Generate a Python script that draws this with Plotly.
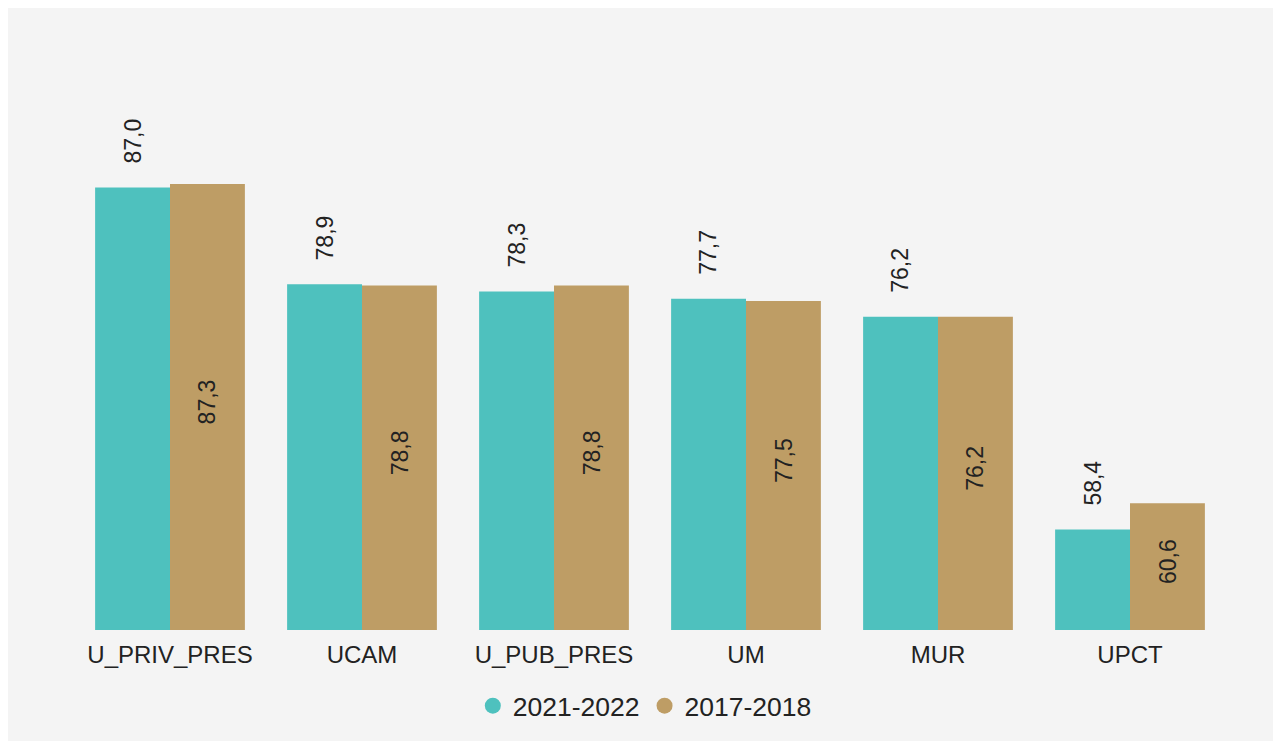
import plotly.graph_objects as go

categories = ["U_PRIV_PRES", "UCAM", "U_PUB_PRES", "UM", "MUR", "UPCT"]
values_2122 = [87.0, 78.9, 78.3, 77.7, 76.2, 58.4]
values_1718 = [87.3, 78.8, 78.8, 77.5, 76.2, 60.6]
series_names = ["2021-2022", "2017-2018"]

TEAL = "#4EC1BE"
TAN = "#BE9D65"
TXT = "#222222"
FONT = "Liberation Sans, Arial, sans-serif"
BARGAP = 0.22
half = (1 - BARGAP) / 4
Y_MIN, Y_MAX = 50, 100

fig = go.Figure()
fig.add_trace(go.Bar(
    x=categories, y=values_2122, name=series_names[0],
    marker=dict(color=TEAL, line=dict(width=0)), showlegend=False,
    hoverinfo="skip"))
fig.add_trace(go.Bar(
    x=categories, y=values_1718, name=series_names[1],
    marker=dict(color=TAN, line=dict(width=0)), showlegend=False,
    hoverinfo="skip"))

# legend proxies (circle markers)
for name, col in zip(series_names, [TEAL, TAN]):
    fig.add_trace(go.Scatter(x=[None], y=[None], mode="markers", name=name,
                             marker=dict(symbol="circle", size=20, color=col)))

def fmt(v):
    return f"{v:.1f}".replace(".", ",")

annotations = []
for i, v in enumerate(values_2122):
    annotations.append(dict(
        x=i - half, y=v, xref="x", yref="y",
        text=fmt(v), showarrow=False,
        textangle=-90, yanchor="bottom", xanchor="center", yshift=22,
        font=dict(size=23, color=TXT, family=FONT)))
for i, v in enumerate(values_1718):
    annotations.append(dict(
        x=i + half, y=(Y_MIN + v) / 2, xref="x", yref="y",
        text=fmt(v), showarrow=False,
        textangle=-90, yanchor="middle", xanchor="center", yshift=5,
        font=dict(size=23, color=TXT, family=FONT)))

fig.update_layout(
    width=1273, height=736,
    paper_bgcolor="#f4f4f4", plot_bgcolor="#f4f4f4",
    barmode="group", bargap=BARGAP, bargroupgap=0,
    margin=dict(l=66, r=55, t=24, b=114),
    font=dict(family=FONT, color=TXT, size=23),
    xaxis=dict(showgrid=False, zeroline=False, showline=False,
               tickfont=dict(size=24, color=TXT), ticklabelstandoff=8),
    yaxis=dict(range=[Y_MIN, Y_MAX], visible=False),
    legend=dict(orientation="h", x=0.4955, xanchor="center",
                y=-0.127, yanchor="middle", bgcolor="rgba(0,0,0,0)",
                font=dict(size=26.5, color=TXT, family=FONT),
                itemwidth=30, tracegroupgap=0),
    annotations=annotations,
)

fig.write_html("out.html")
